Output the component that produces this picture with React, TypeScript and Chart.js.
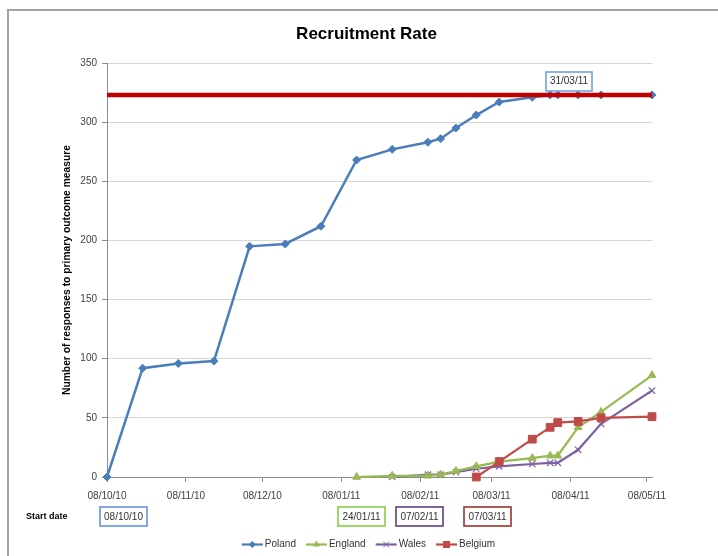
import React, { useEffect, useRef } from 'react';
import { Chart, registerables } from 'chart.js';

Chart.register(...registerables);

const FONT = '"Liberation Sans", Arial, sans-serif';

// x values: days since 08/10/10
const monthTickDays = [0, 31, 61, 92, 123, 151, 182, 212];
const monthTickLabels = ['08/10/10', '08/11/10', '08/12/10', '08/01/11', '08/02/11', '08/03/11', '08/04/11', '08/05/11'];
const xMaxDay = 214;

const polandDays = [0, 14, 28, 42, 56, 70, 84, 98, 112, 126, 131, 137, 145, 154, 167, 174, 177, 185, 194, 214];
const polandValues = [0, 92, 96, 98, 195, 197, 212, 268, 277, 283, 286, 295, 306, 317, 321, 323, 323, 323, 323, 323];

const englandDays = [98, 112, 126, 131, 137, 145, 154, 167, 174, 177, 185, 194, 214];
const englandValues = [0, 1, 1, 2, 5, 9, 13, 16, 18, 18, 42, 55, 86];

const walesDays = [112, 126, 131, 137, 145, 154, 167, 174, 177, 185, 194, 214];
const walesValues = [0, 2, 2, 4, 7, 9, 11, 12, 12, 23, 45, 73];

const belgiumDays = [145, 154, 167, 174, 177, 185, 194, 214];
const belgiumValues = [0, 13, 32, 42, 46, 47, 50, 51];

const targetDays = [0, 214];
const targetValues = [323, 323];

const seriesNames = ['Poland', 'England', 'Wales', 'Belgium'];
const startDateLabels = ['08/10/10', '24/01/11', '07/02/11', '07/03/11'];
const targetReachedLabel = '31/03/11';
const chartTitle = 'Recruitment Rate';
const yAxisTitle = 'Number of responses to primary outcome measure';
const startDateTitle = 'Start date';

// styles (kept apart from data)
const seriesColors = ['#4A7EBB', '#98B954', '#7D60A0', '#BE4B48'];
const seriesStyles = ['rectRot', 'triangle', 'crossRot', 'rect'];
const seriesRadius = [4, 4.5, 4.5, 5.5];
const startBoxColors = ['#6A9BE0', '#8DCF52', '#644C87', '#A23E3A'];
const startBoxLefts = [100, 338, 396, 464];
const startBoxRights = [147, 385, 443, 511];

function toPoints(xs: number[], ys: number[]) {
  return xs.map((x, i) => ({ x, y: ys[i] }));
}

function drawMarker(ctx: CanvasRenderingContext2D, style: string, x: number, y: number, r: number, color: string) {
  ctx.save();
  ctx.fillStyle = color;
  ctx.strokeStyle = color;
  ctx.lineWidth = 1;
  ctx.beginPath();
  if (style === 'rectRot') {
    ctx.moveTo(x - r, y); ctx.lineTo(x, y - r); ctx.lineTo(x + r, y); ctx.lineTo(x, y + r); ctx.closePath();
    ctx.fill();
  } else if (style === 'triangle') {
    ctx.moveTo(x, y - r); ctx.lineTo(x + r * 0.866, y + r * 0.5); ctx.lineTo(x - r * 0.866, y + r * 0.5); ctx.closePath();
    ctx.fill();
  } else if (style === 'crossRot') {
    const s = r * 0.707;
    ctx.moveTo(x - s, y - s); ctx.lineTo(x + s, y + s); ctx.moveTo(x + s, y - s); ctx.lineTo(x - s, y + s);
    ctx.stroke();
  } else {
    const s = r * 0.707;
    ctx.rect(x - s, y - s, 2 * s, 2 * s);
    ctx.fill();
  }
  ctx.restore();
}

const overlayPlugin = {
  id: 'overlay',
  afterDraw(chart: any) {
    const ctx: CanvasRenderingContext2D = chart.ctx;
    ctx.save();
    // outer chart border
    ctx.strokeStyle = '#a3a3a3';
    ctx.lineWidth = 2;
    ctx.strokeRect(8, 10, 740, 580);

    // title
    ctx.fillStyle = '#000000';
    ctx.font = `bold 17px ${FONT}`;
    ctx.textAlign = 'center';
    ctx.textBaseline = 'middle';
    ctx.fillText(chartTitle, 366.5, 34);

    // target reached annotation
    ctx.fillStyle = '#ffffff';
    ctx.fillRect(546, 72, 46, 19);
    ctx.strokeStyle = '#6A9BE0';
    ctx.lineWidth = 1.5;
    ctx.strokeRect(546, 72, 46, 19);
    ctx.fillStyle = '#333333';
    ctx.font = `10px ${FONT}`;
    ctx.fillText(targetReachedLabel, 569, 81.5);

    // start date row
    ctx.fillStyle = '#000000';
    ctx.font = `bold 9px ${FONT}`;
    ctx.textAlign = 'left';
    ctx.fillText(startDateTitle, 26, 517);
    ctx.font = `10px ${FONT}`;
    ctx.textAlign = 'center';
    startDateLabels.forEach((label, i) => {
      const l = startBoxLefts[i];
      const r = startBoxRights[i];
      ctx.strokeStyle = startBoxColors[i];
      ctx.lineWidth = 1.7;
      ctx.strokeRect(l, 507, r - l, 19);
      ctx.fillStyle = '#333333';
      ctx.fillText(label, (l + r) / 2, 517);
    });

    // legend
    ctx.font = `10px ${FONT}`;
    const lineLen = 21;
    const gap = 2;
    const itemGap = 10;
    const widths = seriesNames.map((n) => lineLen + gap + ctx.measureText(n).width);
    const total = widths.reduce((a, b) => a + b, 0) + itemGap * (seriesNames.length - 1);
    let x = 368.5 - total / 2;
    const ly = 544.5;
    ctx.textAlign = 'left';
    seriesNames.forEach((n, i) => {
      ctx.strokeStyle = seriesColors[i];
      ctx.lineWidth = 2.2;
      ctx.beginPath();
      ctx.moveTo(x, ly);
      ctx.lineTo(x + lineLen, ly);
      ctx.stroke();
      drawMarker(ctx, seriesStyles[i], x + lineLen / 2, ly, seriesRadius[i] * 0.9, seriesColors[i]);
      ctx.fillStyle = '#333333';
      ctx.fillText(n, x + lineLen + gap, ly);
      x += widths[i] + itemGap;
    });
    ctx.restore();
  },
};

export default function App() {
  const canvasRef = useRef<HTMLCanvasElement | null>(null);

  useEffect(() => {
    document.body.style.margin = '0';
    document.body.style.overflow = 'hidden';
    const canvas = canvasRef.current;
    if (!canvas) return;

    const seriesData = [
      toPoints(polandDays, polandValues),
      toPoints(englandDays, englandValues),
      toPoints(walesDays, walesValues),
      toPoints(belgiumDays, belgiumValues),
    ];

    const datasets: any[] = seriesNames.map((name, i) => ({
      label: name,
      data: seriesData[i],
      borderColor: seriesColors[i],
      backgroundColor: seriesColors[i],
      borderWidth: i === 0 ? 2.5 : 2.2,
      pointStyle: seriesStyles[i],
      pointRadius: seriesRadius[i],
      pointBorderWidth: i === 2 ? 1.2 : 1,
      pointBorderColor: seriesColors[i],
      pointBackgroundColor: seriesColors[i],
      tension: 0,
      clip: false,
      order: [2, 4, 5, 3][i],
    }));

    datasets.push({
      label: 'Target',
      data: toPoints(targetDays, targetValues),
      borderColor: '#C00000',
      backgroundColor: '#C00000',
      borderWidth: 4.5,
      pointRadius: 0,
      tension: 0,
      clip: false,
      order: 1,
    });

    const chart = new Chart(canvas, {
      type: 'line',
      data: { datasets },
      plugins: [overlayPlugin],
      options: {
        animation: false,
        responsive: false,
        devicePixelRatio: 1,
        layout: { padding: { top: 63, right: 66, bottom: 49, left: 0 } },
        plugins: {
          legend: { display: false },
          title: { display: false },
          tooltip: { enabled: false },
        },
        scales: {
          x: {
            type: 'linear',
            min: 0,
            max: xMaxDay,
            afterBuildTicks: (scale: any) => {
              scale.ticks = monthTickDays.map((v) => ({ value: v }));
            },
            afterFit: (scale: any) => {
              scale.height = 30;
            },
            ticks: {
              autoSkip: false,
              maxRotation: 0,
              minRotation: 0,
              padding: 8,
              color: '#404040',
              font: { family: FONT, size: 10 },
              callback: (v: any) => {
                const i = monthTickDays.indexOf(Number(v));
                return i >= 0 ? monthTickLabels[i] : '';
              },
            },
            grid: {
              drawOnChartArea: false,
              drawTicks: true,
              tickLength: 5,
              tickColor: '#8c8c8c',
            },
            border: { display: true, color: '#8c8c8c', width: 1 },
          },
          y: {
            type: 'linear',
            min: 0,
            max: 350,
            afterFit: (scale: any) => {
              scale.width = 107;
            },
            ticks: {
              stepSize: 50,
              padding: 5,
              color: '#404040',
              font: { family: FONT, size: 10 },
            },
            grid: {
              color: '#d6d6d6',
              lineWidth: 1,
              drawTicks: true,
              tickLength: 5,
              tickColor: '#8c8c8c',
            },
            border: { display: true, color: '#8c8c8c', width: 1 },
            title: {
              display: true,
              text: yAxisTitle,
              color: '#000000',
              font: { family: FONT, size: 10.3, weight: 'bold' },
              padding: { top: 61, bottom: 0 },
            },
          },
        },
      },
    });

    return () => {
      chart.destroy();
    };
  }, []);

  return (
    <div style={{ width: 718, height: 556, position: 'relative', background: '#ffffff' }}>
      <canvas ref={canvasRef} width={718} height={556} style={{ display: 'block' }} />
    </div>
  );
}
